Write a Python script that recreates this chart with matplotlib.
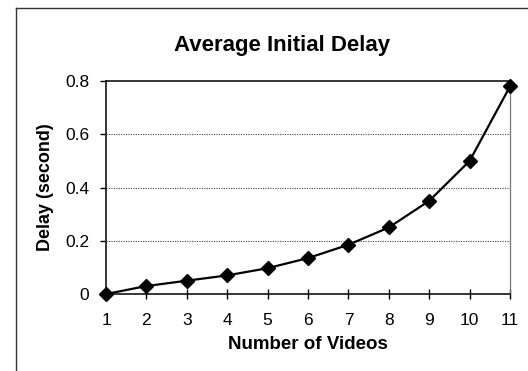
import matplotlib.pyplot as plt
from matplotlib.lines import Line2D

plt.rcParams['font.family'] = ['Liberation Sans', 'DejaVu Sans']

# data
num_videos = [1, 2, 3, 4, 5, 6, 7, 8, 9, 10, 11]
delay = [0.0, 0.03, 0.05, 0.07, 0.097, 0.135, 0.185, 0.25, 0.35, 0.5, 0.78]
y_ticks = [0, 0.2, 0.4, 0.6, 0.8]
y_tick_labels = ['0', '0.2', '0.4', '0.6', '0.8']

fig = plt.figure(figsize=(5.28, 3.71), dpi=100)
ax = fig.add_axes([0.2008, 0.2075, 0.7652, 0.5742])

ax.plot(num_videos, delay, color='black', linewidth=1.6, marker='D',
        markersize=7.5, clip_on=False, zorder=5)

ax.set_xlim(1, 11)
ax.set_ylim(0, 0.8)
ax.set_xticks(num_videos)
ax.set_yticks(y_ticks)
ax.set_yticklabels(y_tick_labels)

for y in y_ticks[1:-1]:
    ax.axhline(y, color='#444444', linestyle=(0, (1, 1.2)), linewidth=0.8, zorder=1)

ax.tick_params(axis='x', direction='inout', length=7, width=1, labelsize=12.5, pad=10)
ax.tick_params(axis='y', direction='out', length=4, width=1, labelsize=12.5, pad=8)

for side in ['left', 'bottom', 'top']:
    ax.spines[side].set_color('black')
    ax.spines[side].set_linewidth(1.1)
ax.spines['right'].set_color('#777777')
ax.spines['right'].set_linewidth(0.9)

ax.set_xlabel('Number of Videos', fontsize=13.5, fontweight='bold', labelpad=6)
ax.set_ylabel('Delay (second)', fontsize=13, fontweight='bold', labelpad=8)
fig.text(0.535, 0.877, 'Average Initial Delay', ha='center', va='center',
         fontsize=16, fontweight='bold')

# outer chart frame (left and top edges visible)
fig.add_artist(Line2D([16 / 528, 16 / 528], [0, 1 - 8 / 371], color='#333333', linewidth=1))
fig.add_artist(Line2D([16 / 528, 1], [1 - 8 / 371, 1 - 8 / 371], color='#333333', linewidth=1))

fig.savefig('out.png', dpi=100)
